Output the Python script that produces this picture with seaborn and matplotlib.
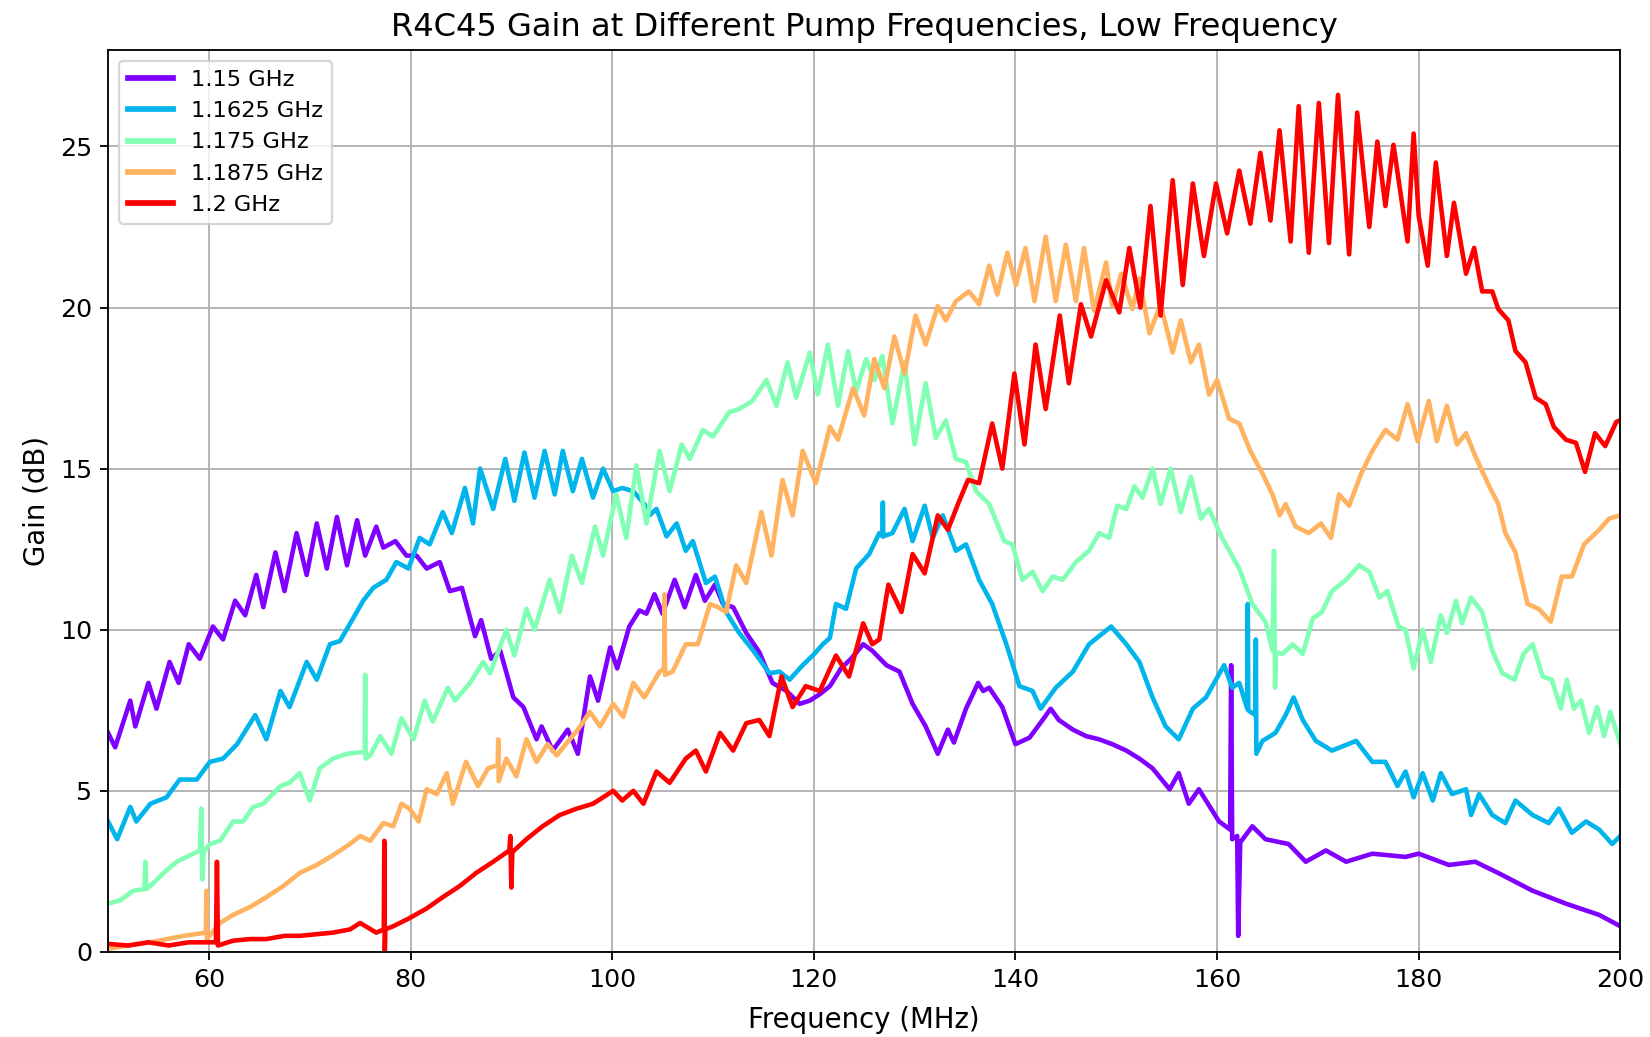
import pandas as pd
import matplotlib
matplotlib.use('Agg')
import matplotlib.pyplot as plt
import seaborn as sns
import numpy as np

# Pump frequencies (legend labels)
pump_labels = ['1.15 GHz', '1.1625 GHz', '1.175 GHz', '1.1875 GHz', '1.2 GHz']

# (frequency MHz, gain dB) readings for each pump frequency
pts_1150 = [(50.0, 6.8), (50.7, 6.35), (52.2, 7.8), (52.7, 7.0), (54.0, 8.35), (54.8, 7.55),
            (56.1, 9.0), (57.0, 8.35), (58.0, 9.55), (59.1, 9.1), (60.4, 10.1), (61.4, 9.7),
            (62.6, 10.9), (63.6, 10.45), (64.7, 11.7), (65.4, 10.7), (66.6, 12.4), (67.5, 11.2),
            (68.7, 13.0), (69.7, 11.7), (70.7, 13.3), (71.7, 11.9), (72.7, 13.5), (73.7, 12.0),
            (74.7, 13.4), (75.5, 12.3), (76.6, 13.2), (77.3, 12.55), (78.5, 12.75), (79.6, 12.3),
            (80.6, 12.3), (81.6, 11.9), (82.9, 12.1), (83.9, 11.2), (85.1, 11.3), (86.4, 9.8),
            (87.0, 10.3), (88.0, 9.1), (88.9, 9.35), (90.2, 7.9), (91.2, 7.6), (92.5, 6.6),
            (93.0, 7.0), (94.1, 6.25), (95.6, 6.9), (96.6, 6.15), (97.8, 8.55), (98.6, 7.8),
            (99.8, 9.45), (100.5, 8.8), (101.7, 10.1), (102.7, 10.6), (103.4, 10.5), (104.2, 11.1),
            (105.0, 10.5), (106.2, 11.55), (107.2, 10.7), (108.3, 11.7), (109.2, 10.9), (110.2, 11.4),
            (111.0, 10.8), (112.0, 10.7), (113.3, 9.9), (114.6, 9.3), (115.9, 8.35), (117.3, 8.1),
            (118.6, 7.7), (119.6, 7.8), (120.6, 8.0), (121.6, 8.25), (122.7, 8.8), (123.7, 9.1),
            (124.9, 9.55), (125.8, 9.35), (127.2, 8.9), (128.5, 8.7), (129.8, 7.7), (131.1, 7.0),
            (132.3, 6.15), (133.3, 6.9), (133.9, 6.5), (135.1, 7.55), (136.3, 8.35), (136.8, 8.1),
            (137.4, 8.2), (138.7, 7.6), (140.0, 6.45), (141.4, 6.65), (142.7, 7.2), (143.5, 7.55),
            (144.3, 7.2), (145.7, 6.9), (147.0, 6.7), (148.3, 6.6), (149.6, 6.45), (151.0, 6.25),
            (152.3, 6.0), (153.6, 5.7), (155.3, 5.05), (156.2, 5.55), (157.2, 4.6), (158.2, 5.05),
            (160.2, 4.05), (161.3, 3.8), (161.4, 8.9), (161.5, 3.5), (162.0, 3.6), (162.1, 0.5),
            (162.3, 3.4), (163.5, 3.9), (164.8, 3.5), (167.1, 3.35), (168.8, 2.8), (170.8, 3.15),
            (172.8, 2.8), (175.4, 3.05), (178.7, 2.95), (180.0, 3.05), (183.0, 2.7), (185.6, 2.8),
            (187.9, 2.45), (191.3, 1.9), (194.6, 1.5), (197.9, 1.15), (200.0, 0.8)]

pts_1162 = [(50.0, 4.05), (50.9, 3.5), (52.2, 4.5), (52.8, 4.05), (54.2, 4.6), (55.8, 4.8),
            (57.1, 5.35), (58.8, 5.35), (60.1, 5.9), (61.4, 6.0), (62.8, 6.45), (64.6, 7.35),
            (65.7, 6.6), (67.1, 8.1), (68.0, 7.6), (69.7, 9.0), (70.7, 8.45), (72.0, 9.55),
            (73.0, 9.65), (74.3, 10.35), (75.3, 10.9), (76.3, 11.3), (77.6, 11.55), (78.6, 12.1),
            (79.8, 11.9), (80.9, 12.85), (81.9, 12.65), (83.2, 13.65), (84.1, 13.0), (85.4, 14.4),
            (86.2, 13.3), (86.9, 15.0), (88.2, 13.75), (89.4, 15.3), (90.3, 14.0), (91.3, 15.5),
            (92.3, 14.1), (93.3, 15.55), (94.3, 14.2), (95.1, 15.55), (96.1, 14.3), (97.0, 15.3),
            (98.1, 14.1), (99.1, 15.0), (100.1, 14.3), (101.0, 14.4), (102.1, 14.3), (103.2, 13.9),
            (103.7, 13.55), (104.4, 13.75), (105.4, 12.9), (106.4, 13.3), (107.3, 12.45), (108.0, 12.75),
            (109.3, 11.45), (110.2, 11.65), (111.3, 10.55), (112.6, 9.9), (114.0, 9.35), (115.6, 8.65),
            (116.6, 8.7), (117.6, 8.45), (118.9, 8.9), (119.9, 9.2), (120.9, 9.55), (121.6, 9.75),
            (122.2, 10.8), (123.2, 10.65), (124.2, 11.9), (125.5, 12.35), (126.5, 13.0), (126.8, 12.9),
            (126.85, 13.95), (126.9, 12.9), (127.8, 13.0), (129.0, 13.75), (129.8, 12.75), (131.0, 13.85),
            (131.8, 12.85), (132.8, 13.55), (134.1, 12.45), (135.1, 12.65), (136.4, 11.55), (137.7, 10.8),
            (139.1, 9.55), (140.4, 8.25), (141.7, 8.1), (142.5, 7.55), (144.0, 8.2), (145.7, 8.7),
            (147.3, 9.55), (149.5, 10.1), (151.0, 9.55), (152.3, 9.0), (153.6, 7.9), (154.9, 7.0),
            (156.2, 6.6), (157.6, 7.55), (158.9, 7.9), (160.7, 8.9), (161.5, 8.2), (162.2, 8.35),
            (163.0, 7.55), (163.05, 10.8), (163.1, 7.5), (163.8, 7.35), (163.85, 9.7), (163.9, 6.15),
            (164.5, 6.55), (165.8, 6.8), (166.8, 7.35), (167.6, 7.9), (168.5, 7.2), (169.8, 6.55),
            (171.4, 6.25), (173.8, 6.55), (175.4, 5.9), (176.7, 5.9), (177.9, 5.15), (178.7, 5.6),
            (179.5, 4.8), (180.4, 5.55), (181.4, 4.7), (182.2, 5.55), (183.3, 4.9), (184.7, 5.05),
            (185.2, 4.25), (186.0, 4.9), (187.3, 4.25), (188.6, 4.0), (189.6, 4.7), (191.3, 4.25),
            (192.9, 4.0), (193.9, 4.45), (195.2, 3.7), (196.6, 4.05), (197.9, 3.8), (199.2, 3.35),
            (200.0, 3.6)]

pts_1175 = [(50.0, 1.5), (51.2, 1.6), (52.5, 1.9), (53.6, 1.95), (53.7, 2.8), (53.8, 1.95),
            (54.2, 2.05), (55.5, 2.45), (56.8, 2.8), (57.8, 2.95), (59.1, 3.15), (59.25, 4.45),
            (59.35, 2.25), (59.5, 3.1), (60.1, 3.35), (61.1, 3.45), (62.4, 4.05), (63.4, 4.05),
            (64.4, 4.5), (65.4, 4.6), (67.1, 5.15), (68.0, 5.25), (69.0, 5.55), (70.0, 4.7),
            (71.0, 5.7), (72.3, 6.0), (73.7, 6.15), (75.0, 6.2), (75.45, 6.2), (75.5, 8.6),
            (75.55, 6.0), (76.0, 6.1), (77.0, 6.7), (78.1, 6.15), (79.1, 7.25), (80.3, 6.6),
            (81.4, 7.8), (82.2, 7.15), (83.7, 8.2), (84.4, 7.8), (85.9, 8.35), (87.2, 9.0),
            (87.9, 8.65), (89.5, 10.0), (90.3, 9.2), (91.5, 10.65), (92.3, 10.0), (93.8, 11.55),
            (94.8, 10.55), (96.0, 12.3), (97.0, 11.45), (98.3, 13.2), (99.1, 12.3), (100.4, 14.2),
            (101.4, 12.85), (102.4, 15.1), (103.4, 13.3), (104.7, 15.55), (105.7, 14.3), (106.9, 15.75),
            (107.7, 15.3), (109.0, 16.2), (110.0, 16.0), (111.6, 16.75), (112.6, 16.85), (113.9, 17.1),
            (115.3, 17.75), (116.3, 16.95), (117.4, 18.3), (118.25, 17.2), (119.6, 18.6), (120.4, 17.3),
            (121.4, 18.85), (122.4, 16.95), (123.4, 18.65), (124.2, 17.4), (125.2, 18.4), (126.0, 17.75),
            (126.8, 18.5), (127.8, 16.4), (129.0, 18.3), (130.0, 15.75), (131.1, 17.65), (132.1, 15.95),
            (133.1, 16.5), (134.1, 15.3), (135.1, 15.2), (136.1, 14.3), (137.4, 13.9), (138.9, 12.75),
            (139.7, 12.65), (140.7, 11.55), (141.7, 11.8), (142.7, 11.2), (143.7, 11.65), (144.7, 11.55),
            (146.0, 12.1), (147.3, 12.45), (148.3, 13.0), (149.3, 12.85), (150.1, 13.85), (151.0, 13.75),
            (151.8, 14.45), (152.6, 14.1), (153.6, 15.0), (154.4, 13.9), (155.4, 15.0), (156.4, 13.65),
            (157.4, 14.75), (158.4, 13.45), (159.2, 13.75), (160.5, 12.85), (162.2, 11.9), (163.5, 10.8),
            (164.8, 10.25), (165.5, 9.35), (165.65, 12.45), (165.75, 8.2), (165.85, 9.3), (166.5, 9.25),
            (167.5, 9.55), (168.5, 9.25), (169.5, 10.35), (170.4, 10.55), (171.4, 11.2), (172.8, 11.55),
            (174.1, 12.0), (175.1, 11.8), (176.1, 11.0), (176.9, 11.2), (178.0, 10.1), (178.7, 10.0),
            (179.5, 8.8), (180.4, 10.0), (181.2, 9.0), (182.2, 10.45), (182.8, 9.9), (183.7, 10.9),
            (184.3, 10.2), (185.2, 11.0), (186.3, 10.55), (187.3, 9.35), (188.3, 8.65), (189.5, 8.45),
            (190.4, 9.25), (191.3, 9.55), (192.3, 8.55), (193.2, 8.45), (194.1, 7.55), (194.7, 8.45),
            (195.4, 7.55), (196.1, 7.8), (196.9, 6.8), (197.7, 7.6), (198.4, 6.7), (199.0, 7.45),
            (200.0, 6.45)]

pts_1187 = [(50.0, 0.1), (52.0, 0.2), (54.2, 0.3), (57.5, 0.5), (59.7, 0.6), (59.75, 1.9),
            (59.8, 0.4), (61.1, 0.9), (62.4, 1.15), (64.1, 1.4), (65.7, 1.7), (67.4, 2.05),
            (69.0, 2.45), (70.7, 2.7), (72.3, 3.0), (74.0, 3.35), (75.0, 3.6), (76.0, 3.45),
            (77.3, 4.0), (78.3, 3.9), (79.1, 4.6), (79.9, 4.45), (80.8, 4.05), (81.6, 5.05),
            (82.6, 4.9), (83.6, 5.55), (84.2, 4.6), (85.5, 5.9), (86.7, 5.15), (87.7, 5.7),
            (88.65, 5.8), (88.7, 6.6), (88.75, 5.3), (89.5, 6.0), (90.5, 5.45), (91.5, 6.6),
            (92.5, 5.9), (93.6, 6.45), (94.5, 6.1), (95.8, 6.6), (96.6, 6.9), (97.8, 7.45),
            (98.8, 7.0), (100.1, 7.7), (101.1, 7.3), (102.1, 8.35), (103.2, 7.9), (104.7, 8.7),
            (105.15, 8.8), (105.2, 11.1), (105.25, 8.6), (106.0, 8.7), (107.3, 9.55), (108.5, 9.55),
            (109.7, 10.8), (110.5, 10.7), (111.3, 10.55), (112.3, 12.0), (113.3, 11.45), (114.8, 13.65),
            (115.8, 12.3), (116.9, 14.65), (117.9, 13.55), (118.9, 15.55), (120.2, 14.55), (121.6, 16.3),
            (122.4, 15.9), (123.9, 17.5), (125.0, 16.65), (126.0, 18.4), (127.0, 17.5), (128.0, 19.1),
            (129.0, 17.95), (130.1, 19.75), (131.1, 18.85), (132.3, 20.05), (133.1, 19.6), (134.1, 20.2),
            (135.4, 20.5), (136.4, 20.1), (137.4, 21.3), (138.2, 20.4), (139.2, 21.7), (140.05, 20.7),
            (141.0, 21.85), (141.9, 20.2), (143.0, 22.2), (144.0, 20.2), (145.0, 21.95), (146.0, 20.2),
            (146.8, 21.85), (147.8, 19.9), (149.0, 21.4), (149.6, 20.05), (150.5, 21.05), (151.6, 19.95),
            (152.3, 20.9), (153.3, 19.2), (154.4, 20.1), (155.6, 18.6), (156.4, 19.6), (157.4, 18.3),
            (158.2, 18.85), (159.2, 17.3), (160.0, 17.75), (161.2, 16.55), (162.2, 16.4), (163.3, 15.55),
            (164.5, 14.85), (165.5, 14.2), (166.2, 13.55), (166.8, 13.9), (167.8, 13.2), (169.1, 13.0),
            (170.3, 13.3), (171.3, 12.85), (172.1, 14.2), (173.1, 13.85), (174.3, 14.85), (175.4, 15.55),
            (176.7, 16.2), (177.9, 15.9), (178.9, 17.0), (179.9, 15.85), (181.0, 17.1), (181.8, 15.85),
            (182.8, 16.95), (183.8, 15.75), (184.7, 16.1), (185.6, 15.4), (187.0, 14.45), (187.9, 13.9),
            (188.6, 13.0), (189.6, 12.4), (190.8, 10.8), (191.9, 10.65), (193.1, 10.25), (194.2, 11.65),
            (195.2, 11.65), (196.4, 12.65), (197.9, 13.1), (198.9, 13.45), (200.0, 13.55)]

pts_1200 = [(50.0, 0.25), (52.0, 0.2), (54.0, 0.3), (56.0, 0.2), (58.0, 0.3), (60.7, 0.3),
            (60.8, 2.8), (60.9, 0.2), (62.4, 0.35), (64.1, 0.4), (65.7, 0.4), (67.5, 0.5),
            (69.0, 0.5), (70.7, 0.55), (72.3, 0.6), (74.0, 0.7), (75.0, 0.9), (76.6, 0.6),
            (77.35, 0.7), (77.4, 3.45), (77.45, 0.0), (77.5, 0.7), (78.3, 0.8), (79.9, 1.05),
            (81.6, 1.35), (83.2, 1.7), (84.9, 2.05), (86.5, 2.45), (88.2, 2.8), (89.8, 3.15),
            (89.9, 3.6), (90.0, 2.0), (90.1, 3.1), (91.5, 3.5), (93.1, 3.9), (94.8, 4.25),
            (96.5, 4.45), (98.1, 4.6), (100.1, 5.0), (101.0, 4.7), (102.1, 5.0), (103.1, 4.6),
            (104.4, 5.6), (105.7, 5.25), (107.3, 6.0), (108.3, 6.25), (109.3, 5.6), (110.7, 6.8),
            (112.0, 6.25), (113.3, 7.1), (114.6, 7.2), (115.6, 6.7), (116.8, 8.55), (117.9, 7.6),
            (119.2, 8.25), (120.6, 8.1), (122.2, 9.2), (123.5, 8.55), (124.9, 10.2), (125.8, 9.55),
            (126.5, 9.7), (127.4, 11.4), (128.7, 10.55), (129.8, 12.35), (131.0, 11.75), (132.3, 13.55),
            (133.3, 13.1), (134.3, 13.9), (135.3, 14.65), (136.4, 14.55), (137.7, 16.4), (138.7, 15.0),
            (139.9, 17.95), (140.9, 15.75), (142.0, 18.85), (143.0, 16.85), (144.4, 19.75), (145.3, 17.65),
            (146.5, 20.1), (147.5, 19.1), (149.0, 20.85), (150.3, 19.85), (151.3, 21.85), (152.4, 20.0),
            (153.4, 23.15), (154.4, 19.75), (155.6, 23.95), (156.6, 20.7), (157.6, 23.85), (158.7, 21.6),
            (159.9, 23.85), (161.0, 22.3), (162.2, 24.25), (163.3, 22.6), (164.3, 24.8), (165.3, 22.7),
            (166.2, 25.5), (167.3, 22.05), (168.1, 26.25), (169.1, 21.7), (170.1, 26.35), (171.1, 22.0),
            (172.0, 26.6), (173.1, 21.65), (173.9, 26.05), (175.1, 22.5), (175.9, 25.15), (176.7, 23.15),
            (177.5, 25.05), (178.9, 22.05), (179.5, 25.4), (180.0, 22.85), (180.9, 21.3), (181.7, 24.5),
            (182.8, 21.6), (183.5, 23.25), (184.7, 21.05), (185.5, 21.85), (186.3, 20.5), (187.3, 20.5),
            (187.9, 19.95), (188.9, 19.6), (189.6, 18.65), (190.6, 18.3), (191.6, 17.2), (192.6, 17.0),
            (193.4, 16.3), (194.6, 15.9), (195.6, 15.8), (196.5, 14.9), (197.5, 16.1), (198.5, 15.7),
            (199.6, 16.45), (200.0, 16.5)]

series = [pts_1150, pts_1162, pts_1175, pts_1187, pts_1200]

# Build long-form table for seaborn
rows = []
for label, pts in zip(pump_labels, series):
    for f, g in pts:
        rows.append({'freq': f, 'gain': g, 'pump': label})
df = pd.DataFrame(rows)

colors = [plt.cm.rainbow(v) for v in np.linspace(0, 1, len(pump_labels))]

fig, ax = plt.subplots(figsize=(10, 6.285), dpi=165)
fig.subplots_adjust(left=0.0655, right=0.982, top=0.952, bottom=0.082)

sns.lineplot(data=df, x='freq', y='gain', hue='pump', hue_order=pump_labels,
             palette=colors, estimator=None, sort=False, linewidth=2.0, ax=ax)

leg = ax.get_legend()
handles = leg.legend_handles
labels = [t.get_text() for t in leg.get_texts()]
new_leg = ax.legend(handles, labels, loc='upper left', fontsize=9.8)
for h in new_leg.legend_handles:
    h.set_linewidth(2.5)

ax.set_xlim(50, 200)
ax.set_ylim(0, 28)
ax.set_xticks(np.arange(60, 201, 20))
ax.set_yticks(np.arange(0, 26, 5))
ax.tick_params(labelsize=11)
ax.grid(True)
ax.set_title('R4C45 Gain at Different Pump Frequencies, Low Frequency', fontsize=14)
ax.set_xlabel('Frequency (MHz)', fontsize=12, labelpad=6)
ax.set_ylabel('Gain (dB)', fontsize=12)

plt.savefig('out.png', dpi=165)
